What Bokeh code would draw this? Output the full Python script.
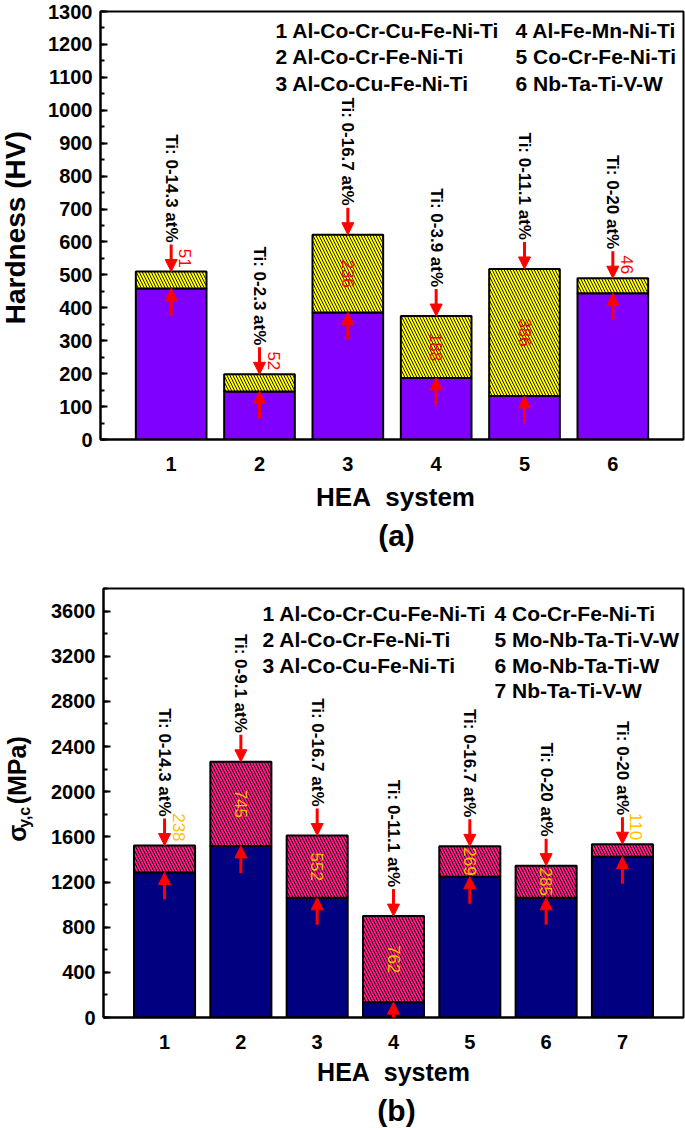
import math
from bokeh.plotting import figure
from bokeh.models import (Range1d, SingleIntervalTicker, FixedTicker, ColumnDataSource,
                          Arrow, NormalHead)
from bokeh.layouts import column, row
from bokeh.embed import file_html
from bokeh.resources import INLINE
from bokeh.core.properties import value

FONT = "Liberation Sans"

# ---------------- data: panel (a) hardness ----------------
a_systems = [1, 2, 3, 4, 5, 6]
a_base = [459, 146, 386, 187, 132, 444]          # hardness without Ti (HV)
a_increase = [51, 52, 236, 188, 386, 46]          # increase by Ti (HV)
a_ti_range = ["Ti: 0-14.3 at%", "Ti: 0-2.3 at%", "Ti: 0-16.7 at%",
              "Ti: 0-3.9 at%", "Ti: 0-11.1 at%", "Ti: 0-20 at%"]
a_legend_1 = ["1 Al-Co-Cr-Cu-Fe-Ni-Ti", "2 Al-Co-Cr-Fe-Ni-Ti", "3 Al-Co-Cu-Fe-Ni-Ti"]
a_legend_2 = ["4 Al-Fe-Mn-Ni-Ti", "5 Co-Cr-Fe-Ni-Ti", "6 Nb-Ta-Ti-V-W"]

# ---------------- data: panel (b) yield strength ----------------
b_systems = [1, 2, 3, 4, 5, 6, 7]
b_base = [1285, 1520, 1060, 136, 1247, 1060, 1425]   # MPa without Ti
b_increase = [238, 745, 552, 762, 269, 285, 110]      # increase by Ti (MPa)
b_ti_range = ["Ti: 0-14.3 at%", "Ti: 0-9.1 at%", "Ti: 0-16.7 at%", "Ti: 0-11.1 at%",
              "Ti: 0-16.7 at%", "Ti: 0-20 at%", "Ti: 0-20 at%"]
b_legend_1 = ["1 Al-Co-Cr-Cu-Fe-Ni-Ti", "2 Al-Co-Cr-Fe-Ni-Ti", "3 Al-Co-Cu-Fe-Ni-Ti"]
b_legend_2 = ["4 Co-Cr-Fe-Ni-Ti", "5 Mo-Nb-Ta-Ti-V-W", "6 Mo-Nb-Ta-Ti-W", "7 Nb-Ta-Ti-V-W"]

X_TITLE = "HEA\u00a0\u00a0system"


def deco(width, height, items):
    """A bare figure (no axes) holding text at canvas-pixel positions."""
    p = figure(width=width, height=height, x_range=Range1d(0, width),
               y_range=Range1d(0, height), x_axis_type=None, y_axis_type=None,
               output_backend="svg", toolbar_location=None, min_border=0)
    p.min_border_left = p.min_border_right = p.min_border_top = p.min_border_bottom = 0
    p.xgrid.visible = False
    p.ygrid.visible = False
    p.outline_line_color = None
    p.background_fill_color = "white"
    p.border_fill_color = "white"
    for (cx, cy, txt, size, angle, align) in items:
        p.text(x=[cx], y=[height - cy], text=[txt], angle=angle, text_align=align,
               text_baseline="middle", text_font=value(FONT), text_font_style="bold",
               text_font_size=size, text_color="black")
    return p


def panel(systems, base, inc, ti, leg1, leg2, *, page_left, page_top, width, height,
          left, right, top, bottom, x_end, y_end, y_step, base_color, inc_color,
          num_color, leg1_x, leg2_x, leg_y):
    x0 = 0.2
    frame_w = width - left - right
    frame_h = height - top - bottom
    sx = frame_w / (x_end - x0)
    sy = frame_h / y_end
    frame_left_page = page_left + left
    frame_bottom_page = page_top + top + frame_h

    def X(px):
        return x0 + (px - frame_left_page) / sx

    def Y(py):
        return (frame_bottom_page - py) / sy

    p = figure(width=width, height=height, x_range=Range1d(x0, x_end),
               y_range=Range1d(0, y_end), output_backend="svg", toolbar_location=None,
               min_border_left=left, min_border_right=right, min_border_top=top,
               min_border_bottom=bottom)
    p.xgrid.visible = False
    p.ygrid.visible = False
    p.background_fill_color = "white"
    p.border_fill_color = "white"
    p.outline_line_color = "black"
    p.outline_line_width = 2
    p.outline_line_alpha = 1.0

    p.xaxis.ticker = FixedTicker(ticks=systems)
    p.yaxis.ticker = SingleIntervalTicker(interval=y_step, num_minor_ticks=2)
    p.axis.axis_line_width = 2
    p.axis.axis_line_color = "black"
    p.axis.major_label_text_font = FONT
    p.axis.major_label_text_font_size = "20px"
    p.axis.major_label_text_font_style = "bold"
    p.axis.major_label_text_color = "black"
    p.yaxis.major_tick_in = 7
    p.yaxis.major_tick_out = 0
    p.yaxis.minor_tick_in = 4
    p.yaxis.minor_tick_out = 0
    p.yaxis.major_tick_line_width = 2
    p.yaxis.minor_tick_line_width = 2
    p.yaxis.major_tick_line_color = "black"
    p.yaxis.minor_tick_line_color = "black"
    p.yaxis.major_label_standoff = 8
    p.xaxis.major_tick_line_color = None
    p.xaxis.minor_tick_line_color = None
    p.xaxis.major_label_standoff = 11

    totals = [b + i for b, i in zip(base, inc)]
    src = ColumnDataSource(dict(x=systems, base=base, top=totals))
    p.vbar(x="x", width=0.8, bottom=0, top="base", fill_color=base_color,
           line_color="black", line_width=2, source=src)
    p.vbar(x="x", width=0.8, bottom="base", top="top", fill_color=inc_color,
           line_color="black", line_width=2, hatch_pattern="\\", hatch_color="black",
           hatch_scale=6, hatch_weight=0.9, source=src)

    # arrows: down onto the top of each bar, up onto the top of the Ti-free part
    down = ColumnDataSource(dict(xs=systems, ys=[t + 27 / sy for t in totals],
                                 xe=systems, ye=totals))
    up = ColumnDataSource(dict(xs=systems, ys=[b - 27 / sy for b in base],
                               xe=systems, ye=base))
    for s in (down, up):
        p.add_layout(Arrow(end=NormalHead(size=12, fill_color="red", line_color="red",
                                          line_width=1),
                           x_start="xs", y_start="ys", x_end="xe", y_end="ye",
                           line_color="red", line_width=3, source=s))

    # Ti range texts
    tsrc = ColumnDataSource(dict(x=systems, y=[t + 29 / sy for t in totals], t=ti))
    p.text(x="x", y="y", text="t", angle=-math.pi / 2, text_align="right",
           text_baseline="middle", text_font=value(FONT), text_font_style="bold",
           text_font_size="17px", text_color="black", source=tsrc)

    # increment values
    out_x, out_y, out_t, in_x, in_y, in_t = [], [], [], [], [], []
    for x, b, i, t in zip(systems, base, inc, totals):
        if i * sy < 28:
            out_x.append(x + 14 / sx)
            out_y.append(t + 4 / sy)
            out_t.append(str(i))
        else:
            in_x.append(x)
            in_y.append(b + i / 2)
            in_t.append(str(i))
    p.text(x=out_x, y=out_y, text=out_t, angle=-math.pi / 2, text_align="right",
           text_baseline="middle", text_font=value(FONT), text_font_size="17px",
           text_color=num_color)
    p.text(x=in_x, y=in_y, text=in_t, angle=-math.pi / 2, text_align="center",
           text_baseline="middle", text_font=value(FONT), text_font_size="17px",
           text_color=num_color)

    # legend texts
    for col_x, col in ((leg1_x, leg1), (leg2_x, leg2)):
        p.text(x=[X(col_x)] * len(col), y=[Y(v) for v in leg_y[:len(col)]], text=col,
               text_align="left", text_baseline="middle", text_font=value(FONT),
               text_font_style="bold", text_font_size="21px", text_color="black")
    return p


HALF_PI = math.pi / 2

# ----- panel (a): page rows 0..564 -----
ya = deco(40, 479, [(15, 242, "Hardness (HV)", "28px", HALF_PI, "center")])
pa = panel(a_systems, a_base, a_increase, a_ti_range, a_legend_1, a_legend_2,
           page_left=40, page_top=0, width=645, height=479, left=60, right=2, top=11,
           bottom=40, x_end=6.8, y_end=1300, y_step=100, base_color="#7F00FF",
           inc_color="#FFFF00", num_color="#FF0000", leg1_x=275, leg2_x=515,
           leg_y=[30, 56, 83])
cap_a = deco(685, 85, [(395, 17, X_TITLE, "26px", 0, "center"),
                       (396, 56, "(a)", "30px", 0, "center")])

# ----- panel (b): page rows 564..1128 -----
yb = deco(40, 493, [(16, 855 - 564, "σ", "25px", HALF_PI, "left"),
                    (24, 839 - 564, "y,c", "16px", HALF_PI, "left"),
                    (16, 812 - 564, "(MPa)", "25px", HALF_PI, "left")])
pb = panel(b_systems, b_base, b_increase, b_ti_range, b_legend_1, b_legend_2,
           page_left=40, page_top=564, width=645, height=493, left=63, right=2, top=24,
           bottom=40, x_end=7.8, y_end=3800, y_step=400, base_color="#000080",
           inc_color="#FF1A85", num_color="#FFC000", leg1_x=262, leg2_x=494,
           leg_y=[613, 639, 665, 690])
cap_b = deco(685, 71, [(393, 14, X_TITLE, "25px", 0, "center"),
                       (396, 53, "(b)", "30px", 0, "center")])

layout = column(row(ya, pa), cap_a, row(yb, pb), cap_b)
open("out.html", "w").write(file_html(layout, INLINE))
